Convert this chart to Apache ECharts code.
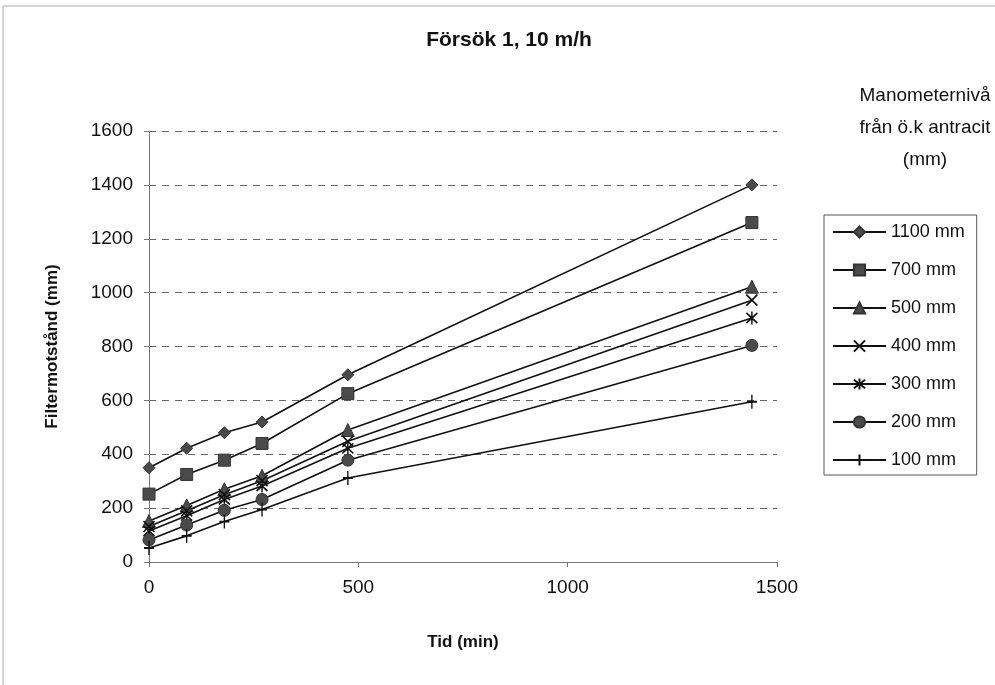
<!DOCTYPE html>
<html>
<head>
<meta charset="utf-8">
<script src="https://cdn.jsdelivr.net/npm/echarts@6/dist/echarts.min.js"></script>
<style>
  html, body { margin: 0; padding: 0; background: #fff; }
  #chart { width: 995px; height: 685px; }
</style>
</head>
<body>
<div id="chart"></div>
<script>
// tider (min)
var times = [0, 90, 180, 270, 475, 1440];
// filtermotstånd per manometernivå (mm)
var s1100 = [350, 422, 480, 520, 695, 1400];
var s700 = [252, 325, 378, 440, 625, 1260];
var s500 = [152, 210, 270, 320, 490, 1022];
var s400 = [132, 190, 250, 302, 448, 972];
var s300 = [115, 172, 232, 282, 422, 906];
var s200 = [82, 137, 192, 232, 378, 804];
var s100 = [52, 97, 150, 195, 312, 595];
var names = ['1100 mm', '700 mm', '500 mm', '400 mm', '300 mm', '200 mm', '100 mm'];

var FONT = '"Liberation Sans", Arial, sans-serif';

function pairs(vals) {
	var out = [];
	for (var i = 0; i < times.length; i++) {
		out.push([times[i], vals[i]]);
	}
	return out;
}

// gemensam linjeserie
function mkSeries(name, vals, symbol, size, stroked) {
	return {
		name: name,
		type: 'line',
		data: pairs(vals),
		symbol: symbol,
		symbolSize: size,
		showAllSymbol: true,
		lineStyle: { color: '#111', width: 1.6 },
		itemStyle: stroked ? {
			color: 'none',
			borderColor: '#111',
			borderWidth: 1.6
		} : {
			color: '#4a4a4a',
			borderColor: '#333',
			borderWidth: 1
		},
		emphasis: { disabled: true }
	};
}

var myChart = echarts.init(document.getElementById('chart'));
var option = {
	animation: false,
	backgroundColor: '#fff',
	grid: { left: 149, right: 218, top: 131, bottom: 123 },
	legend: {
		data: names,
		orient: 'vertical',
		left: 824,
		top: 215,
		itemWidth: 53,
		itemHeight: 14,
		itemGap: 20,
		padding: [8, 12, 6, 8],
		borderColor: '#555',
		borderWidth: 1,
		textStyle: { fontFamily: FONT, fontSize: 18, color: '#111' }
	},
	xAxis: {
		type: 'value',
		min: 0,
		max: 1500,
		interval: 500,
		name: 'Tid (min)',
		nameLocation: 'middle',
		nameGap: 72,
		nameTextStyle: { fontFamily: FONT, fontSize: 17, fontWeight: 'bold', color: '#111' },
		axisLine: { lineStyle: { color: '#777', width: 1 } },
		axisTick: { show: true, length: 5, lineStyle: { color: '#777' } },
		axisLabel: {
			fontFamily: FONT, fontSize: 19, color: '#111', margin: 16,
			formatter: function (v) { return String(v); }
		},
		splitLine: { show: false }
	},
	yAxis: {
		type: 'value',
		min: 0,
		max: 1600,
		interval: 200,
		name: 'Filtermotstånd (mm)',
		nameLocation: 'middle',
		nameGap: 88,
		nameTextStyle: { fontFamily: FONT, fontSize: 17, fontWeight: 'bold', color: '#111' },
		axisLine: { show: true, lineStyle: { color: '#777', width: 1 } },
		axisTick: { show: true, length: 5, lineStyle: { color: '#777' } },
		axisLabel: {
			fontFamily: FONT, fontSize: 19, color: '#111', margin: 16,
			formatter: function (v) { return String(v); }
		},
		splitLine: { show: true, lineStyle: { color: '#666', type: [7, 6], width: 1 } }
	},
	graphic: [
		{
			type: 'rect',
			shape: { x: 3, y: 6, width: 1010, height: 700 },
			style: { fill: 'none', stroke: '#aaa', lineWidth: 1 },
			silent: true
		},
		{
			type: 'text',
			x: 509,
			y: 30,
			style: {
				text: 'Försök 1, 10 m/h',
				font: 'bold 21px ' + FONT,
				fill: '#111',
				textAlign: 'center'
			}
		},
		{
			type: 'text',
			x: 925,
			y: 80,
			style: {
				text: 'Manometernivå\nfrån ö.k antracit\n(mm)',
				font: '19px ' + FONT,
				fill: '#111',
				textAlign: 'center',
				lineHeight: 32
			}
		}
	],
	series: [
		mkSeries(names[0], s1100, 'diamond', 12, false),
		mkSeries(names[1], s700, 'rect', 12, false),
		mkSeries(names[2], s500, 'triangle', 13, false),
		mkSeries(names[3], s400, 'path://M0,0L10,10M10,0L0,10', 11, true),
		mkSeries(names[4], s300, 'path://M0,0L10,10M10,0L0,10M5,-1.5L5,11.5', [11, 13], true),
		mkSeries(names[5], s200, 'circle', 12, false),
		mkSeries(names[6], s100, 'path://M5,0L5,14M0,7L10,7', [10, 14], true)
	]
};
myChart.setOption(option);
</script>
</body>
</html>
